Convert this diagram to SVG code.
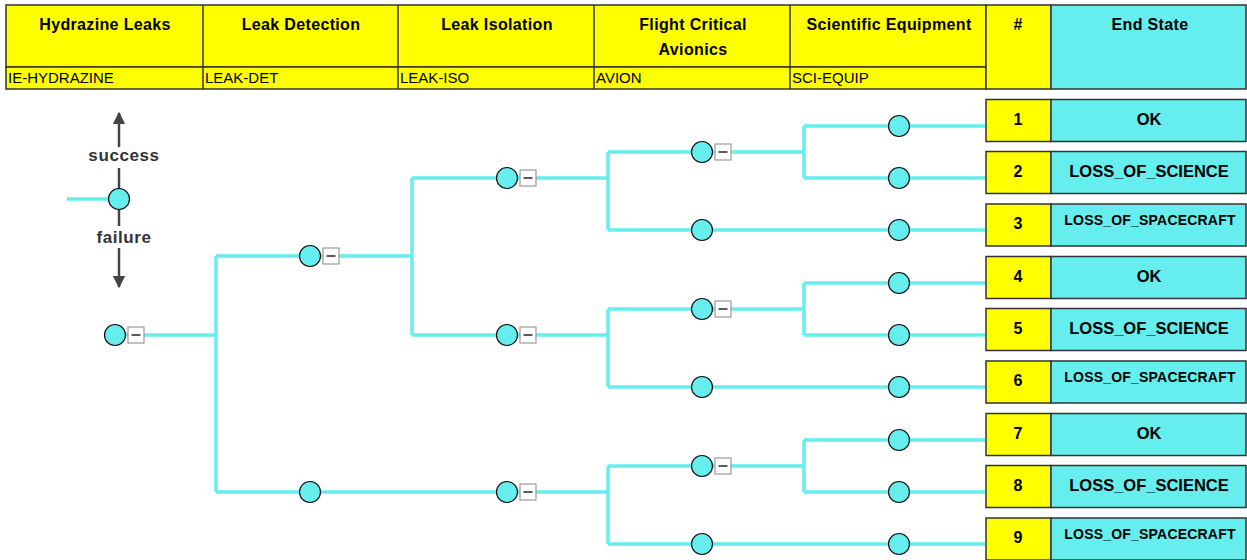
<svg xmlns="http://www.w3.org/2000/svg" width="1247" height="560" viewBox="0 0 1247 560">
<defs>
<style>
.hdr{font-family:"Liberation Sans",Arial,sans-serif;font-weight:bold;font-size:16px;letter-spacing:0.35px;fill:#000;text-anchor:middle}
.sub{font-family:"Liberation Sans",Arial,sans-serif;font-size:15px;fill:#000}
.num{font-family:"Liberation Sans",Arial,sans-serif;font-weight:bold;font-size:16px;fill:#000;text-anchor:middle}
.es{font-family:"Liberation Sans",Arial,sans-serif;font-weight:bold;font-size:16.5px;fill:#000;text-anchor:middle}
.es2{font-family:"Liberation Sans",Arial,sans-serif;font-weight:bold;font-size:14px;letter-spacing:0.2px;fill:#000;text-anchor:middle}
.leg{font-family:"Liberation Sans",Arial,sans-serif;font-weight:bold;font-size:17px;letter-spacing:0.6px;fill:#333;text-anchor:middle}
.y{fill:#FFFF00;stroke:#333;stroke-width:1.5}
.c{fill:#66EEEE;stroke:#333;stroke-width:1.5}
.conn{fill:none;stroke:#66EEEE;stroke-width:3.5;stroke-linejoin:round}
.ev{fill:#66EEEE;stroke:#111;stroke-width:1.2}
.mb{fill:#fff;stroke:#999;stroke-width:1.2}
.mm{stroke:#333;stroke-width:1.6}
.arr{stroke:#444;stroke-width:2.5;fill:none}
</style>
<marker id="ah" viewBox="0 0 10 10" refX="9" refY="5" markerWidth="5" markerHeight="5" orient="auto"><path d="M0,0 L10,5 L0,10 z" fill="#444"/></marker>
<g id="ev"><circle r="10.5" class="ev"/></g>
<g id="evb"><circle r="10.5" class="ev"/><rect x="13" y="-8" width="16" height="16" class="mb"/><line x1="16.5" y1="0" x2="25.5" y2="0" class="mm"/></g>
</defs>
<rect width="1247" height="560" fill="#fff"/>

<g id="header">
<rect x="6" y="5" width="980" height="62" class="y"/>
<rect x="6" y="67" width="980" height="22" class="y"/>
<rect x="986" y="5" width="65" height="84" class="y"/>
<rect x="1051" y="5" width="195" height="84" class="c"/>
<line x1="203" y1="5" x2="203" y2="89" stroke="#333" stroke-width="1.5"/>
<line x1="398" y1="5" x2="398" y2="89" stroke="#333" stroke-width="1.5"/>
<line x1="594" y1="5" x2="594" y2="89" stroke="#333" stroke-width="1.5"/>
<line x1="790" y1="5" x2="790" y2="89" stroke="#333" stroke-width="1.5"/>
<text class="hdr" x="105" y="30">Hydrazine Leaks</text>
<text class="hdr" x="301" y="30">Leak Detection</text>
<text class="hdr" x="497" y="30">Leak Isolation</text>
<text class="hdr" x="693" y="30">Flight Critical</text>
<text class="hdr" x="693" y="55">Avionics</text>
<text class="hdr" x="889" y="30">Scientific Equipment</text>
<text class="hdr" x="1018" y="30">#</text>
<text class="hdr" x="1150" y="30">End State</text>
<text class="sub" x="8" y="83">IE-HYDRAZINE</text>
<text class="sub" x="205" y="83">LEAK-DET</text>
<text class="sub" x="400" y="83">LEAK-ISO</text>
<text class="sub" x="596" y="83">AVION</text>
<text class="sub" x="792" y="83">SCI-EQUIP</text>
</g>

<g id="legend">
<line x1="67" y1="199" x2="110" y2="199" class="conn"/>
<line x1="119" y1="189" x2="119" y2="168" class="arr"/>
<line x1="119" y1="147" x2="119" y2="113" class="arr" marker-end="url(#ah)"/>
<line x1="119" y1="209" x2="119" y2="226" class="arr"/>
<line x1="119" y1="248" x2="119" y2="287" class="arr" marker-end="url(#ah)"/>
<circle cx="119" cy="199" r="10.5" class="ev"/>
<text class="leg" x="124" y="161">success</text>
<text class="leg" x="124" y="243">failure</text>
</g>

<g id="connectors">
<path class="conn" d="M120,335 H216 M216,256 V492 M216,256 H412 M412,178 V335 M412,178 H608 M608,152 V230 M608,152 H804 M804,126 V178 M804,126 H985 M804,178 H985 M608,230 H985"/>
<path class="conn" d="M412,335 H608 M608,309 V387 M608,309 H804 M804,283 V335 M804,283 H985 M804,335 H985 M608,387 H985"/>
<path class="conn" d="M216,492 H608 M608,466 V544 M608,466 H804 M804,440 V492 M804,440 H985 M804,492 H985 M608,544 H985"/>
</g>

<g id="n-init"><use href="#evb" x="115" y="335"/></g>
<g id="n-det-s"><use href="#evb" x="310" y="256"/></g>
<g id="n-det-f"><use href="#ev" x="310" y="492"/></g>
<g id="n-iso-1"><use href="#evb" x="507" y="178"/></g>
<g id="n-iso-2"><use href="#evb" x="507" y="335"/></g>
<g id="n-iso-3"><use href="#evb" x="507" y="492"/></g>
<g id="n-av-1"><use href="#evb" x="702" y="152"/></g>
<g id="n-av-2"><use href="#ev" x="702" y="230"/></g>
<g id="n-av-3"><use href="#evb" x="702" y="309"/></g>
<g id="n-av-4"><use href="#ev" x="702" y="387"/></g>
<g id="n-av-5"><use href="#evb" x="702" y="466"/></g>
<g id="n-av-6"><use href="#ev" x="702" y="544"/></g>
<g id="n-sci-1"><use href="#ev" x="899" y="126"/></g>
<g id="n-sci-2"><use href="#ev" x="899" y="178"/></g>
<g id="n-sci-3"><use href="#ev" x="899" y="230"/></g>
<g id="n-sci-4"><use href="#ev" x="899" y="283"/></g>
<g id="n-sci-5"><use href="#ev" x="899" y="335"/></g>
<g id="n-sci-6"><use href="#ev" x="899" y="387"/></g>
<g id="n-sci-7"><use href="#ev" x="899" y="440"/></g>
<g id="n-sci-8"><use href="#ev" x="899" y="492"/></g>
<g id="n-sci-9"><use href="#ev" x="899" y="544"/></g>

<g id="end-1"><rect x="986" y="99.5" width="65" height="42" class="y"/><rect x="1051" y="99.5" width="195" height="42" class="c"/><text class="num" x="1018" y="125">1</text><text class="es" x="1149" y="125">OK</text></g>
<g id="end-2"><rect x="986" y="151.5" width="65" height="42" class="y"/><rect x="1051" y="151.5" width="195" height="42" class="c"/><text class="num" x="1018" y="177">2</text><text class="es" x="1149" y="177">LOSS_OF_SCIENCE</text></g>
<g id="end-3"><rect x="986" y="204" width="65" height="42" class="y"/><rect x="1051" y="204" width="195" height="42" class="c"/><text class="num" x="1018" y="229">3</text><text class="es2" x="1150" y="225">LOSS_OF_SPACECRAFT</text></g>
<g id="end-4"><rect x="986" y="256.5" width="65" height="42" class="y"/><rect x="1051" y="256.5" width="195" height="42" class="c"/><text class="num" x="1018" y="282">4</text><text class="es" x="1149" y="282">OK</text></g>
<g id="end-5"><rect x="986" y="308.5" width="65" height="42" class="y"/><rect x="1051" y="308.5" width="195" height="42" class="c"/><text class="num" x="1018" y="334">5</text><text class="es" x="1149" y="334">LOSS_OF_SCIENCE</text></g>
<g id="end-6"><rect x="986" y="361" width="65" height="42" class="y"/><rect x="1051" y="361" width="195" height="42" class="c"/><text class="num" x="1018" y="386">6</text><text class="es2" x="1150" y="382">LOSS_OF_SPACECRAFT</text></g>
<g id="end-7"><rect x="986" y="413.5" width="65" height="42" class="y"/><rect x="1051" y="413.5" width="195" height="42" class="c"/><text class="num" x="1018" y="439">7</text><text class="es" x="1149" y="439">OK</text></g>
<g id="end-8"><rect x="986" y="465.5" width="65" height="42" class="y"/><rect x="1051" y="465.5" width="195" height="42" class="c"/><text class="num" x="1018" y="491">8</text><text class="es" x="1149" y="491">LOSS_OF_SCIENCE</text></g>
<g id="end-9"><rect x="986" y="518" width="65" height="42" class="y"/><rect x="1051" y="518" width="195" height="42" class="c"/><text class="num" x="1018" y="543">9</text><text class="es2" x="1150" y="539">LOSS_OF_SPACECRAFT</text></g>
</svg>
